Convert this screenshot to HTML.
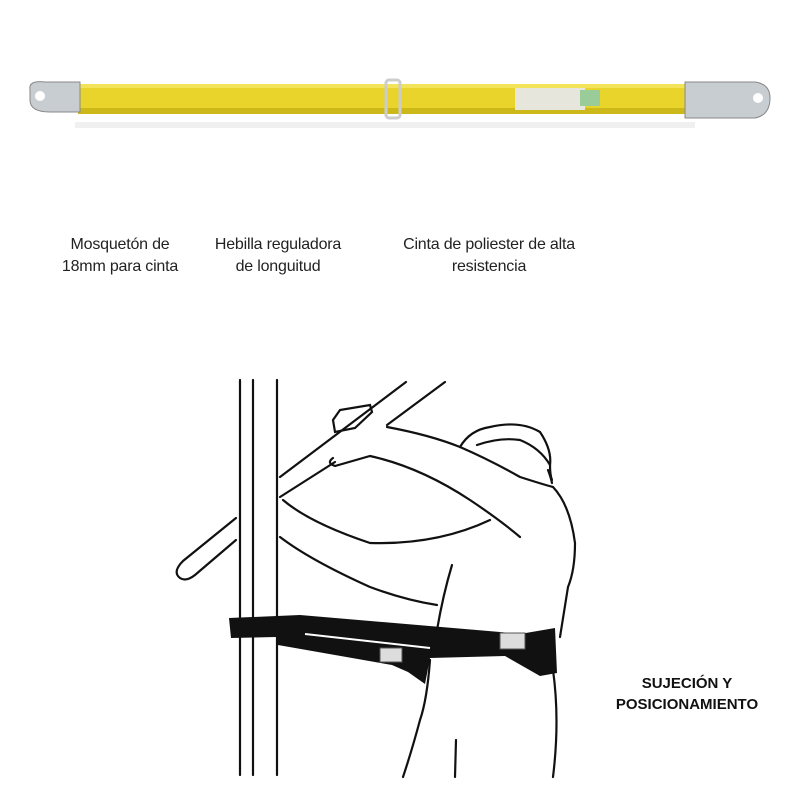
<!DOCTYPE html>
<html><head><meta charset="utf-8"><style>
body{margin:0;background:#fff;width:800px;height:800px;overflow:hidden;position:relative;font-family:"Liberation Sans",sans-serif}
.t{position:absolute;font-size:16px;line-height:22px;color:#222;text-align:center;transform:translateX(-50%);white-space:nowrap;letter-spacing:-0.2px}
.b{position:absolute;font-family:"Liberation Sans",sans-serif;font-weight:bold;font-size:15px;line-height:21px;text-align:center;transform:translateX(-50%);color:#111;white-space:nowrap}
</style></head><body>
<svg width="800" height="800" style="position:absolute;left:0;top:0">
<rect x="75" y="122" width="620" height="6" fill="#f0f0f0"/>
<rect x="78" y="84" width="610" height="30" fill="#e8d42a"/>
<rect x="78" y="84" width="610" height="4" fill="#f2e35a"/>
<rect x="78" y="108" width="610" height="6" fill="#cdb81a"/>
<rect x="386" y="80" width="14" height="38" rx="3" fill="none" stroke="#ccc" stroke-width="3"/>
<rect x="515" y="88" width="70" height="22" fill="#e6e6dc"/>
<rect x="580" y="90" width="20" height="16" fill="#9c9"/>
<path d="M30 90 Q28 80 45 82 L80 82 L80 112 L50 112 Q30 112 30 100 Z" fill="#c8cdd2" stroke="#888"/>
<circle cx="40" cy="96" r="5" fill="#fff"/>
<path d="M685 82 L755 82 Q770 84 770 98 Q770 115 755 118 L685 118 Z" fill="#c8cdd2" stroke="#888"/>
<circle cx="758" cy="98" r="5" fill="#fff"/>
<g fill="none" stroke="#111" stroke-width="2.2" stroke-linecap="round">
<line x1="240" y1="380" x2="240" y2="775"/>
<line x1="253" y1="380" x2="253" y2="775"/>
<line x1="277" y1="380" x2="277" y2="775"/>
<path d="M406 382 L280 477"/>
<path d="M445 382 L387 425"/>
<path d="M236 518 L183 561 Q172 572 180 578 Q186 582 195 575 L236 540"/>
<path d="M333 420 L340 410 L370 405 L372 412 L355 428 L335 432 Z"/>
<path d="M333 458 Q326 463 335 466 L370 456 Q420 467 470 500 Q500 520 520 537"/>
<path d="M387 427 Q430 435 460 447 Q490 460 520 477 Q545 485 553 487 Q570 505 575 543 Q575 570 568 587 L560 637"/>
<path d="M460 447 Q470 430 490 427 Q520 420 540 432 Q552 450 550 465 Q550 475 552 480"/>
<path d="M477 445 Q500 437 520 440 Q540 448 550 465"/>
<path d="M283 500 Q310 523 370 543 Q437 545 490 520"/>
<path d="M280 537 Q310 560 370 587 Q405 600 437 605"/>
<path d="M452 565 Q443 595 437 630"/>
<path d="M430 660 Q427 700 420 720 Q412 750 403 777"/>
<path d="M553 670 Q560 720 553 777"/>
<path d="M456 740 L455 777"/>
<path d="M280 497 L335 462"/>
<path d="M548 470 Q551 478 552 483"/>
</g>
<polygon points="229,618 300,615 500,632 520,634 555,628 557,673 540,676 505,656 430,658 425,684 408,672 392,665 278,645 276,637 231,638" fill="#111"/>
<line x1="305" y1="634" x2="430" y2="648" stroke="#fff" stroke-width="2"/>
<rect x="380" y="648" width="22" height="14" fill="#ddd" stroke="#555"/>
<rect x="500" y="633" width="25" height="16" fill="#ddd" stroke="#555"/>
</svg>
<div class="t" style="left:120px;top:234px">Mosquetón de<br>18mm para cinta</div>
<div class="t" style="left:278px;top:234px">Hebilla reguladora<br>de longuitud</div>
<div class="t" style="left:489px;top:234px">Cinta de poliester de alta<br>resistencia</div>
<div class="b" style="left:687px;top:673px">SUJECIÓN Y<br>POSICIONAMIENTO</div>
</body></html>
